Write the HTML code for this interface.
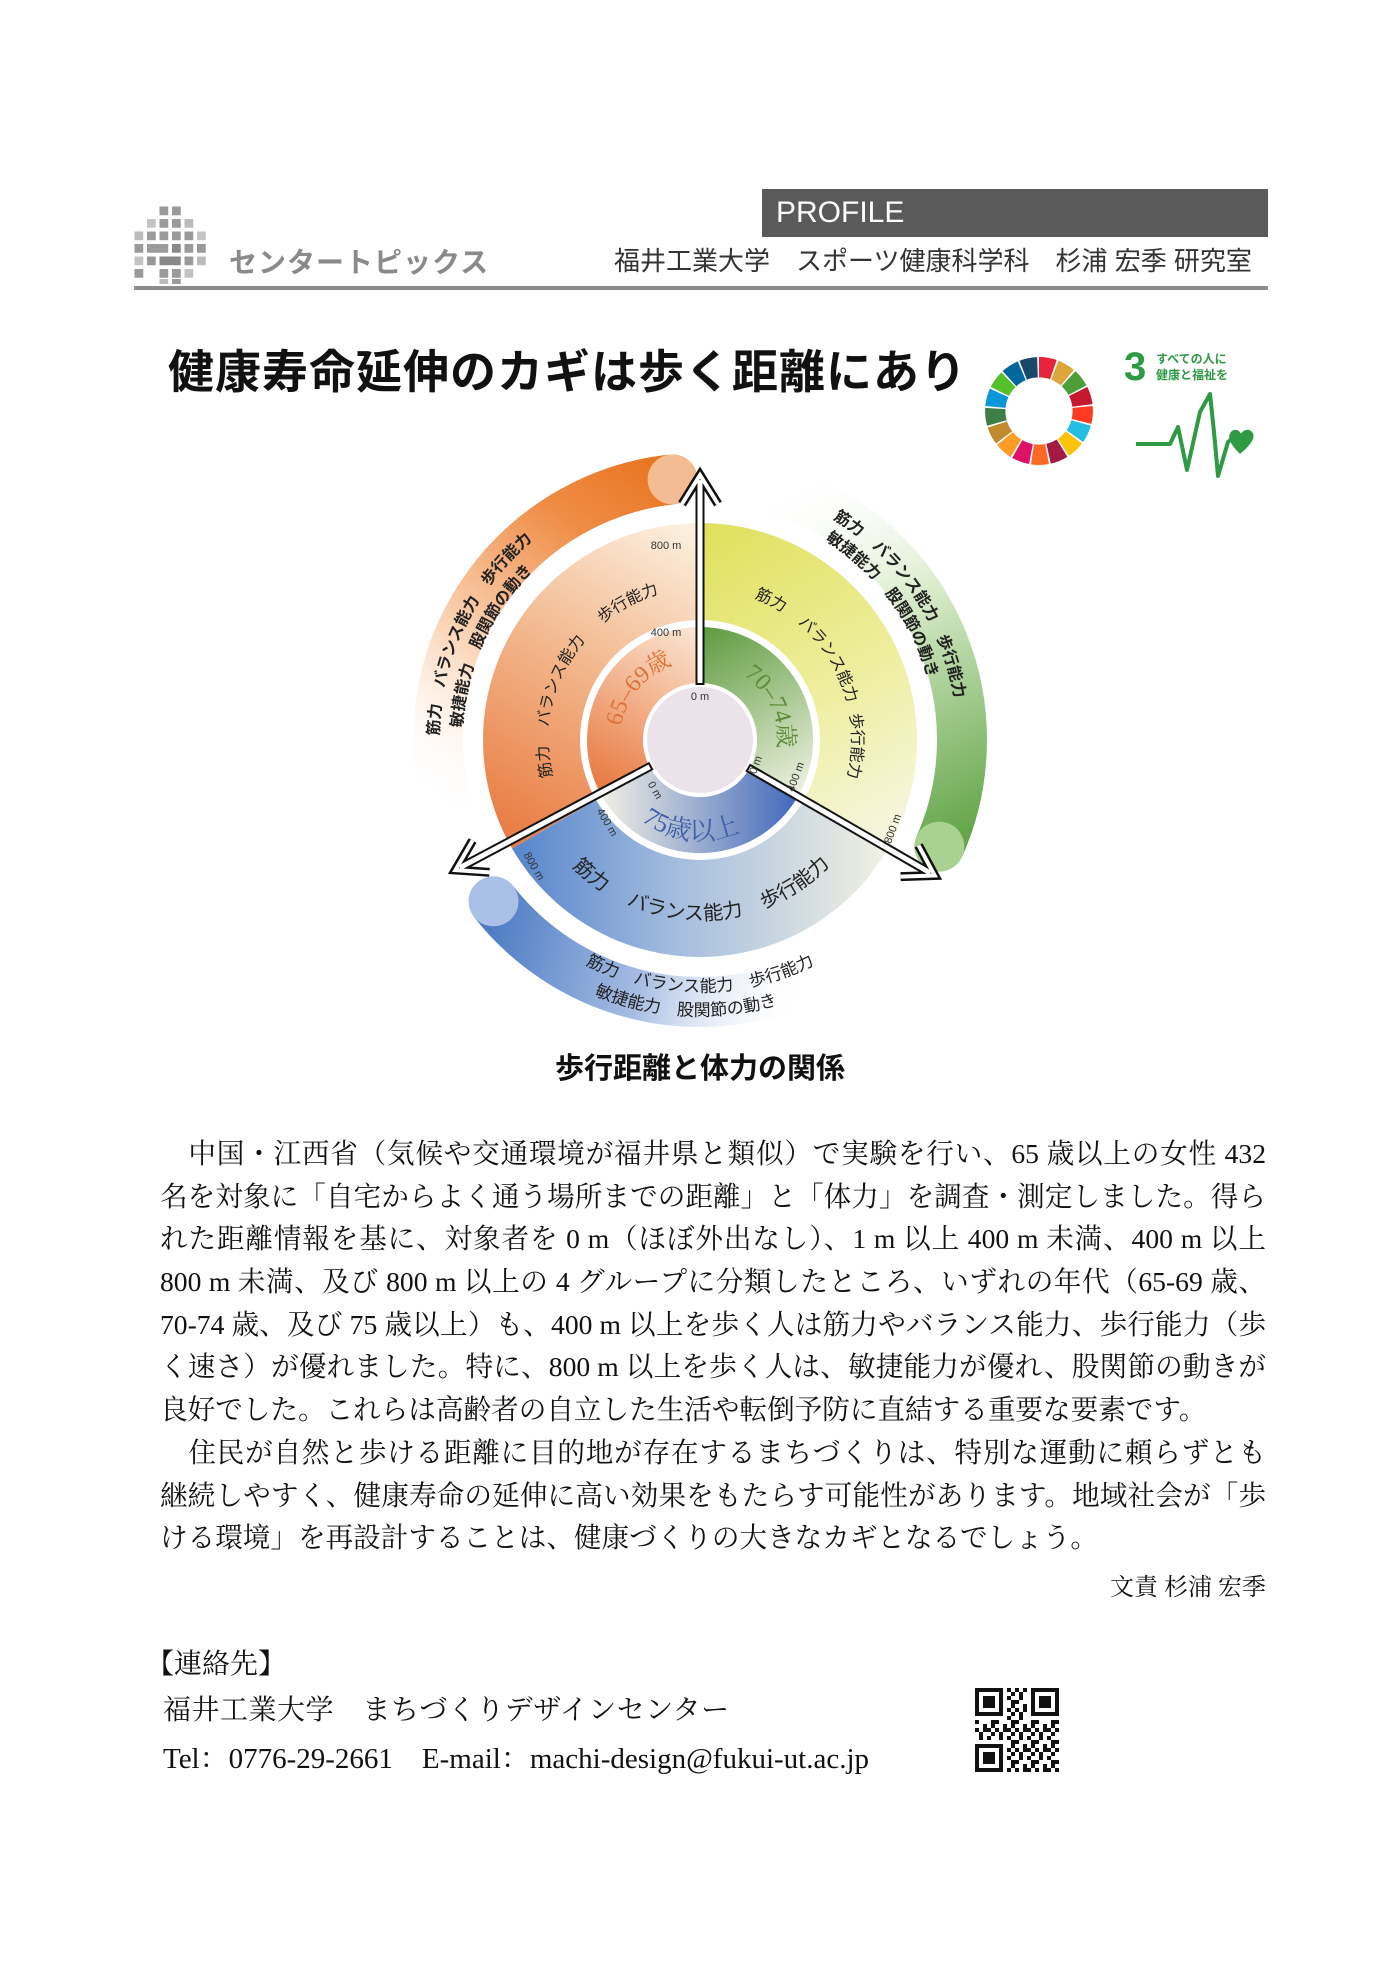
<!DOCTYPE html>
<html><head><meta charset="utf-8">
<style>
html,body{margin:0;padding:0;background:#fff;}
body{width:1400px;height:1979px;position:relative;overflow:hidden;font-family:"Liberation Sans","Noto Sans CJK JP",sans-serif;}
.abs{position:absolute;white-space:nowrap;}
.body{position:absolute;left:160px;top:1133px;width:1106px;font-family:"Liberation Serif","Noto Serif CJK SC",serif;font-size:27.6px;line-height:42.7px;color:#111;}
.body div{white-space:nowrap;text-align:justify;text-align-last:justify;height:42.7px;}
.body div.n{text-align-last:left;}
.ser{font-family:"Liberation Serif","Noto Serif CJK SC",serif;}
</style></head><body>

<!-- logo grid -->
<svg class="abs" style="left:132px;top:204px" width="80" height="80" viewBox="0 0 64 64" preserveAspectRatio="none">
<g fill="#9a9a9a">
<rect x="22" y="2" width="7" height="7"/><rect x="32" y="2" width="7" height="7"/>
<rect x="12" y="12" width="7" height="7" fill="#c4c4c4"/><rect x="22" y="12" width="7" height="7"/><rect x="32" y="12" width="7" height="7"/><rect x="42" y="12" width="7" height="7" fill="#bbb"/>
<rect x="2" y="22" width="7" height="7" fill="#bbb"/><rect x="12" y="22" width="7" height="7"/><rect x="22" y="22" width="7" height="7"/><rect x="32" y="22" width="7" height="7"/><rect x="42" y="22" width="7" height="7"/><rect x="52" y="22" width="7" height="7" fill="#c4c4c4"/>
<rect x="2" y="32" width="7" height="7"/><rect x="12" y="32" width="17" height="7"/><rect x="32" y="32" width="7" height="7" fill="#888"/><rect x="42" y="32" width="7" height="7"/><rect x="52" y="32" width="7" height="7"/>
<rect x="2" y="42" width="7" height="7" fill="#c4c4c4"/><rect x="12" y="42" width="7" height="7"/><rect x="22" y="42" width="17" height="7" fill="#888"/><rect x="42" y="42" width="7" height="7"/><rect x="52" y="42" width="7" height="7" fill="#bbb"/>
<rect x="2" y="52" width="7" height="7"/><rect x="22" y="52" width="7" height="7"/><rect x="32" y="52" width="7" height="7"/><rect x="42" y="52" width="7" height="7" fill="#c4c4c4"/>
<rect x="22" y="60" width="7" height="4" fill="#bbb"/><rect x="32" y="60" width="7" height="4"/>
</g></svg>
<div class="abs" style="left:229px;top:244px;font-size:28px;font-weight:bold;color:#8a8a8a;letter-spacing:1px;line-height:38px">センタートピックス</div>

<div class="abs" style="left:762px;top:189px;width:506px;height:48px;background:#5a5a5a"></div>
<div class="abs" style="left:776px;top:192px;font-size:30px;color:#fff;line-height:42px">PROFILE</div>
<div class="abs" style="left:614px;top:244px;font-size:26px;color:#333;line-height:34px">福井工業大学　スポーツ健康科学科　杉浦 宏季 研究室</div>
<div class="abs" style="left:134px;top:286px;width:1134px;height:4px;background:#8c8c8c"></div>

<div class="abs" style="left:168px;top:342px;font-size:46px;font-weight:bold;color:#111;line-height:60px;letter-spacing:1px">健康寿命延伸のカギは歩く距離にあり</div>

<!-- SDG wheel -->
<svg class="abs" style="left:982px;top:354px" width="114" height="114" viewBox="-56 -56 112 112">
<g fill="none" stroke-width="20">
<circle r="43" stroke="#E5243B" stroke-dasharray="14.4 300" transform="rotate(-90)"/>
<circle r="43" stroke="#DDA63A" stroke-dasharray="14.4 300" transform="rotate(-68.8)"/>
<circle r="43" stroke="#4C9F38" stroke-dasharray="14.4 300" transform="rotate(-47.6)"/>
<circle r="43" stroke="#C5192D" stroke-dasharray="14.4 300" transform="rotate(-26.5)"/>
<circle r="43" stroke="#FF3A21" stroke-dasharray="14.4 300" transform="rotate(-5.3)"/>
<circle r="43" stroke="#26BDE2" stroke-dasharray="14.4 300" transform="rotate(15.9)"/>
<circle r="43" stroke="#FCC30B" stroke-dasharray="14.4 300" transform="rotate(37.1)"/>
<circle r="43" stroke="#A21942" stroke-dasharray="14.4 300" transform="rotate(58.2)"/>
<circle r="43" stroke="#FD6925" stroke-dasharray="14.4 300" transform="rotate(79.4)"/>
<circle r="43" stroke="#DD1367" stroke-dasharray="14.4 300" transform="rotate(100.6)"/>
<circle r="43" stroke="#FD9D24" stroke-dasharray="14.4 300" transform="rotate(121.8)"/>
<circle r="43" stroke="#BF8B2E" stroke-dasharray="14.4 300" transform="rotate(142.9)"/>
<circle r="43" stroke="#3F7E44" stroke-dasharray="14.4 300" transform="rotate(164.1)"/>
<circle r="43" stroke="#0A97D9" stroke-dasharray="14.4 300" transform="rotate(185.3)"/>
<circle r="43" stroke="#56C02B" stroke-dasharray="14.4 300" transform="rotate(206.5)"/>
<circle r="43" stroke="#00689D" stroke-dasharray="14.4 300" transform="rotate(227.6)"/>
<circle r="43" stroke="#19486A" stroke-dasharray="14.4 300" transform="rotate(248.8)"/>
</g></svg>

<!-- SDG 3 -->
<div class="abs" style="left:1124px;top:344px;font-size:40px;font-weight:bold;color:#2e9a44;line-height:46px">3</div>
<div class="abs" style="left:1156px;top:351px;font-size:12px;font-weight:bold;color:#2e9a44;line-height:16px">すべての人に<br>健康と福祉を</div>
<svg class="abs" style="left:1130px;top:392px" width="130" height="90" viewBox="0 0 130 90">
<polyline points="6,52 40,52 48,35 57,78 70,20 80,2 84,40 88,84 98,50 104,45" fill="none" stroke="#2e9a44" stroke-width="4" stroke-linejoin="round"/>
<path d="M110,62 C100,52 96,44 102,39 C106,36 110,39 111,42 C112,39 117,36 121,39 C127,44 122,52 110,62 Z" fill="#2e9a44"/>
</svg>

<!-- DIAGRAM -->
<svg class="abs" style="left:0;top:0" width="1400" height="1100" viewBox="0 0 1400 1100">
<defs>
<linearGradient id="o2" gradientUnits="userSpaceOnUse" x1="512" y1="848" x2="700" y2="523"><stop offset="0" stop-color="#e9793f"/><stop offset="0.5" stop-color="#f2b58a"/><stop offset="1" stop-color="#fdf3e4"/></linearGradient>
<linearGradient id="g2" gradientUnits="userSpaceOnUse" x1="700" y1="523" x2="888" y2="848"><stop offset="0" stop-color="#dfe05a"/><stop offset="0.55" stop-color="#eeee9e"/><stop offset="1" stop-color="#f7f6e4"/></linearGradient>
<linearGradient id="b2" gradientUnits="userSpaceOnUse" x1="512" y1="848" x2="888" y2="848"><stop offset="0" stop-color="#5685cc"/><stop offset="0.45" stop-color="#a6bedf"/><stop offset="1" stop-color="#f2f1e2"/></linearGradient>
<linearGradient id="o1" gradientUnits="userSpaceOnUse" x1="602" y1="796" x2="700" y2="627"><stop offset="0" stop-color="#e8763c"/><stop offset="1" stop-color="#fbe8d6"/></linearGradient>
<linearGradient id="g1" gradientUnits="userSpaceOnUse" x1="700" y1="627" x2="798" y2="796"><stop offset="0" stop-color="#5c9a3c"/><stop offset="1" stop-color="#eef1e2"/></linearGradient>
<linearGradient id="b1" gradientUnits="userSpaceOnUse" x1="602" y1="796" x2="798" y2="796"><stop offset="0" stop-color="#f1efe4"/><stop offset="1" stop-color="#4168bb"/></linearGradient>
<linearGradient id="ob" gradientUnits="userSpaceOnUse" x1="440" y1="810" x2="680" y2="470"><stop offset="0" stop-color="#fff" stop-opacity="0"/><stop offset="0.35" stop-color="#fbd9be"/><stop offset="0.75" stop-color="#ef8c45"/><stop offset="1" stop-color="#e8731f"/></linearGradient>
<linearGradient id="gb" gradientUnits="userSpaceOnUse" x1="768" y1="487" x2="940" y2="846"><stop offset="0" stop-color="#fff" stop-opacity="0"/><stop offset="0.4" stop-color="#dbeccd"/><stop offset="1" stop-color="#65a64a"/></linearGradient>
<linearGradient id="bb" gradientUnits="userSpaceOnUse" x1="493" y1="901" x2="811" y2="977"><stop offset="0" stop-color="#4c7bc4"/><stop offset="0.5" stop-color="#a7bde3"/><stop offset="1" stop-color="#fff" stop-opacity="0"/></linearGradient>
<path id="t65" d="M620,740 A80 80 0 0 1 686.1,661.2"/>
<path id="t70" d="M733,669.3 A78 78 0 0 1 775.3,760.2"/>
<path id="t75" d="M628.1,809.5 A100 100 0 0 0 755.9,822.9"/>
<path id="ro" d="M557.2,792 A152 152 0 0 1 673.6,590.3"/>
<path id="rg" d="M726.4,590.3 A152 152 0 0 1 842.8,792"/>
<path id="rb" d="M562.1,855.7 A180 180 0 0 0 837.9,855.7"/>
<path id="oo1" d="M440,762.8 A261 261 0 0 1 677.2,480"/>
<path id="oo2" d="M462.9,760.7 A238 238 0 0 1 679.3,502.9"/>
<path id="go1" d="M809,506.2 A258 258 0 0 1 942.4,828.2"/>
<path id="go2" d="M799.7,526.1 A236 236 0 0 1 921.8,820.7"/>
<path id="bo1" d="M481.8,866 A252 252 0 0 0 918.2,866"/>
<path id="bo2" d="M461,878 A276 276 0 0 0 939,878"/>
</defs>

<!-- outer bands -->
<path d="M446.9,807.8 A262 262 0 0 1 672.6,479.4" fill="none" stroke="url(#ob)" stroke-width="50"/>
<circle cx="672.6" cy="479.4" r="25" fill="#f4bc92"/>
<path d="M767.8,486.9 A262 262 0 0 1 939.3,846.6" fill="none" stroke="url(#gb)" stroke-width="50"/>
<circle cx="939.3" cy="846.6" r="25" fill="#a9d18f"/>
<path d="M493.5,901.3 A262 262 0 0 0 810.7,977.5" fill="none" stroke="url(#bb)" stroke-width="50"/>
<circle cx="493.5" cy="901.3" r="25" fill="#aac0e6"/>

<!-- ring2 -->
<path d="M512.1,848.5 A217 217 0 0 1 700,523 L700,620 A120 120 0 0 0 596.1,800 Z" fill="url(#o2)"/>
<path d="M700,523 A217 217 0 0 1 887.9,848.5 L803.9,800 A120 120 0 0 0 700,620 Z" fill="url(#g2)"/>
<path d="M887.9,848.5 A217 217 0 0 1 512.1,848.5 L596.1,800 A120 120 0 0 0 803.9,800 Z" fill="url(#b2)"/>
<!-- ring1 -->
<path d="M602.1,796.5 A113 113 0 0 1 700,627 L700,683 A57 57 0 0 0 650.6,768.5 Z" fill="url(#o1)"/>
<path d="M700,627 A113 113 0 0 1 797.9,796.5 L749.4,768.5 A57 57 0 0 0 700,683 Z" fill="url(#g1)"/>
<path d="M797.9,796.5 A113 113 0 0 1 602.1,796.5 L650.6,768.5 A57 57 0 0 0 749.4,768.5 Z" fill="url(#b1)"/>
<circle cx="700" cy="740" r="53" fill="#ece2ea"/>

<!-- age labels -->
<g font-family="Liberation Serif,Noto Serif CJK SC,serif" font-size="24">
<text fill="#dd7238"><textPath href="#t65" startOffset="50%" text-anchor="middle">65–69歳</textPath></text>
<text fill="#5b8c3a"><textPath href="#t70" startOffset="50%" text-anchor="middle">70–74歳</textPath></text>
<text fill="#3f5fa8" font-size="26"><textPath href="#t75" startOffset="50%" text-anchor="middle">75歳以上</textPath></text>
</g>

<!-- ring2 labels -->
<g font-size="16" fill="#222">
<text><textPath href="#ro" startOffset="32" text-anchor="middle">筋力</textPath></text>
<text><textPath href="#ro" startOffset="114" text-anchor="middle">バランス能力</textPath></text>
<text><textPath href="#ro" startOffset="218" text-anchor="middle">歩行能力</textPath></text>
<text><textPath href="#rg" startOffset="45" text-anchor="middle">筋力</textPath></text>
<text><textPath href="#rg" startOffset="127" text-anchor="middle">バランス能力</textPath></text>
<text><textPath href="#rg" startOffset="218" text-anchor="middle">歩行能力</textPath></text>
</g>
<g font-size="20" fill="#222">
<text><textPath href="#rb" startOffset="35" text-anchor="middle">筋力</textPath></text>
<text><textPath href="#rb" startOffset="141" text-anchor="middle">バランス能力</textPath></text>
<text><textPath href="#rb" startOffset="262" text-anchor="middle">歩行能力</textPath></text>
</g>
<!-- outer labels -->
<g font-size="16" font-weight="bold" fill="#222">
<text><textPath href="#oo1" startOffset="27">筋力　バランス能力　歩行能力</textPath></text>
<text><textPath href="#oo2" startOffset="33">敏捷能力　股関節の動き</textPath></text>
<text><textPath href="#go1" startOffset="27">筋力　バランス能力　歩行能力</textPath></text>
<text><textPath href="#go2" startOffset="29">敏捷能力　股関節の動き</textPath></text>
</g>
<g font-size="17" fill="#222">
<text><textPath href="#bo1" startOffset="50%" text-anchor="middle">筋力　バランス能力　歩行能力</textPath></text>
<text><textPath href="#bo2" startOffset="274" text-anchor="middle">敏捷能力　股関節の動き</textPath></text>
</g>

<!-- arrows -->
<g fill="none" stroke-linejoin="miter" stroke-linecap="butt">
<g transform="translate(700,740) rotate(-90)">
<line x1="55" y1="0" x2="262" y2="0" stroke="#111" stroke-width="9"/>
<polyline points="236,-18 265,0 236,18" stroke="#111" stroke-width="9"/>
<line x1="57" y1="0" x2="260" y2="0" stroke="#fff" stroke-width="5"/>
<polyline points="236,-18 265,0 236,18" stroke="#fff" stroke-width="4"/>
</g>
<g transform="translate(700,740) rotate(30)">
<line x1="55" y1="0" x2="268" y2="0" stroke="#111" stroke-width="9"/>
<polyline points="242,-18 271,0 242,18" stroke="#111" stroke-width="9"/>
<line x1="57" y1="0" x2="266" y2="0" stroke="#fff" stroke-width="5"/>
<polyline points="242,-18 271,0 242,18" stroke="#fff" stroke-width="4"/>
</g>
<g transform="translate(700,740) rotate(152)">
<line x1="55" y1="0" x2="274" y2="0" stroke="#111" stroke-width="9"/>
<polyline points="248,-18 277,0 248,18" stroke="#111" stroke-width="9"/>
<line x1="57" y1="0" x2="272" y2="0" stroke="#fff" stroke-width="5"/>
<polyline points="248,-18 277,0 248,18" stroke="#fff" stroke-width="4"/>
</g>
</g>

<!-- distance labels -->
<g font-size="11" fill="#333" text-anchor="middle">
<text x="666" y="549">800 m</text>
<text x="666" y="636">400 m</text>
<text x="700" y="700">0 m</text>
<text transform="translate(759,766) rotate(-70)">0 m</text>
<text transform="translate(799,778) rotate(-70)">400 m</text>
<text transform="translate(896,830) rotate(-70)">800 m</text>
<text transform="translate(652,792) rotate(60)">0 m</text>
<text transform="translate(604,824) rotate(60)">400 m</text>
<text transform="translate(531,868) rotate(60)">800 m</text>
</g>

<text x="700" y="1078" text-anchor="middle" font-size="29" font-weight="bold" fill="#111">歩行距離と体力の関係</text>
</svg>

<div class="body">
<div>　中国・江西省（気候や交通環境が福井県と類似）で実験を行い、65 歳以上の女性 432</div>
<div>名を対象に「自宅からよく通う場所までの距離」と「体力」を調査・測定しました。得ら</div>
<div>れた距離情報を基に、対象者を 0 m（ほぼ外出なし）、1 m 以上 400 m 未満、400 m 以上</div>
<div>800 m 未満、及び 800 m 以上の 4 グループに分類したところ、いずれの年代（65-69 歳、</div>
<div>70-74 歳、及び 75 歳以上）も、400 m 以上を歩く人は筋力やバランス能力、歩行能力（歩</div>
<div>く速さ）が優れました。特に、800 m 以上を歩く人は、敏捷能力が優れ、股関節の動きが</div>
<div class="n">良好でした。これらは高齢者の自立した生活や転倒予防に直結する重要な要素です。</div>
<div>　住民が自然と歩ける距離に目的地が存在するまちづくりは、特別な運動に頼らずとも</div>
<div>継続しやすく、健康寿命の延伸に高い効果をもたらす可能性があります。地域社会が「歩</div>
<div class="n">ける環境」を再設計することは、健康づくりの大きなカギとなるでしょう。</div>
</div>
<div class="abs ser" style="right:134px;top:1572px;font-size:24px;line-height:32px;color:#111">文責 杉浦 宏季</div>

<div class="abs ser" style="left:146px;top:1647px;font-size:28px;line-height:36px;color:#111">【連絡先】</div>
<div class="abs ser" style="left:163px;top:1693px;font-size:28px;line-height:36px;color:#111;letter-spacing:0.5px">福井工業大学　まちづくりデザインセンター</div>
<div class="abs ser" style="left:163px;top:1741px;font-size:29px;line-height:36px;color:#111">Tel：0776-29-2661　E-mail：machi-design@fukui-ut.ac.jp</div>

<!-- QR -->
<svg class="abs" style="left:975px;top:1688px" width="84" height="84" viewBox="0 0 21 21" shape-rendering="crispEdges">
<defs><pattern id="qp" width="5" height="5" patternUnits="userSpaceOnUse">
<rect x="0" y="0" width="1" height="1" fill="#111"/><rect x="2" y="0" width="2" height="1" fill="#111"/><rect x="1" y="1" width="1" height="2" fill="#111"/><rect x="3" y="2" width="1" height="1" fill="#111"/><rect x="0" y="3" width="1" height="1" fill="#111"/><rect x="4" y="3" width="1" height="2" fill="#111"/><rect x="2" y="4" width="1" height="1" fill="#111"/><rect x="4" y="1" width="1" height="1" fill="#111"/></pattern></defs>
<rect width="21" height="21" fill="url(#qp)"/>
<g><rect x="0" y="0" width="8" height="8" fill="#fff"/><rect x="13" y="0" width="8" height="8" fill="#fff"/><rect x="0" y="13" width="8" height="8" fill="#fff"/></g>
<g fill="none" stroke="#111" stroke-width="1">
<rect x="0.5" y="0.5" width="6" height="6"/><rect x="14.5" y="0.5" width="6" height="6"/><rect x="0.5" y="14.5" width="6" height="6"/></g>
<g fill="#111"><rect x="2" y="2" width="3" height="3"/><rect x="16" y="2" width="3" height="3"/><rect x="2" y="16" width="3" height="3"/></g>
</svg>

</body></html>
